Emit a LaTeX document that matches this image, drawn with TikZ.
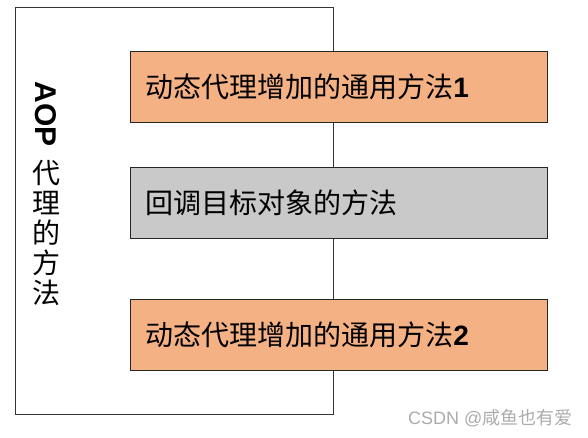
\documentclass[tikz,border=0pt]{standalone}
\usepackage{fontspec}
\setmainfont{Liberation Sans}
\newfontfamily\cjk{Noto Sans CJK SC}
\usetikzlibrary{positioning}
\definecolor{salmon}{HTML}{F4B183}
\definecolor{greyfill}{HTML}{C9C9C9}
\definecolor{mark}{HTML}{ABABAB}
\tikzset{methodbox/.style={draw=black!85,line width=.9pt,minimum width=417pt,minimum height=71pt,anchor=north west,inner xsep=15pt,text width=387pt,align=left,font=\cjk\fontsize{28}{30}\selectfont},proxybox/.style={draw=black!80,fill=white,line width=.9pt,minimum width=318pt,minimum height=407pt,anchor=north west}}

\begin{document}
\begin{tikzpicture}[x=1pt,y=-1pt]
\useasboundingbox (0,0) rectangle (588,438);
\node[proxybox] (proxy) at (15,7) {};
\node[rotate=-90,inner sep=0pt,font=\bfseries\fontsize{30}{32}\selectfont] (aop) at (46,114) {AOP};
\node[anchor=north,align=center,inner sep=0pt,font=\cjk\fontsize{28}{30}\selectfont] (title) at (46,160) {代\\理\\的\\方\\法};
\node[methodbox,fill=salmon] (before) at (130,51) {动态代理增加的通用方法{\rmfamily\bfseries 1}};
\node[methodbox,fill=greyfill] (target) at (130,167) {回调目标对象的方法};
\node[methodbox,fill=salmon] (after) at (130,299) {动态代理增加的通用方法{\rmfamily\bfseries 2}};
\node[anchor=east,text=mark,font=\fontsize{18}{20}\selectfont] (credit) at (576,418) {CSDN @{\cjk 咸鱼也有爱}};
\end{tikzpicture}
\end{document}
